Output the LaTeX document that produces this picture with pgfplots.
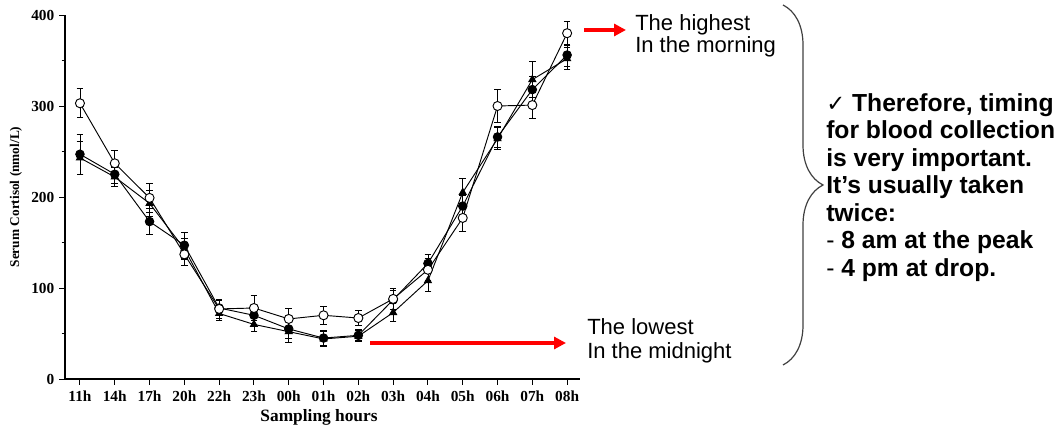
\documentclass[border=0pt]{standalone}
\usepackage{pgfplots}
\pgfplotsset{compat=1.18}
\usepackage{fontspec}
\setmainfont{Liberation Sans}
\newfontfamily\serif{Liberation Serif}
\newfontfamily\dejavu{DejaVu Sans}
\usetikzlibrary{decorations.pathreplacing,arrows.meta}
\begin{document}
\begin{tikzpicture}
\path (0pt,0pt) rectangle (794.25pt,321.75pt);
\begin{axis}[
  at={(48.75pt,37.5pt)}, anchor=south west,
  scale only axis, width=386.25pt, height=273pt,
  xmin=-0.43, xmax=14.37, ymin=0, ymax=400,
  axis x line*=bottom, axis y line*=left,
  axis line style={-, line width=0.8pt},
  tick align=outside, major tick length=4.5pt, minor tick length=2.5pt,
  tick style={line width=0.7pt, black},
  xtick={0,...,14},
  xticklabels={11h,14h,17h,20h,22h,23h,00h,01h,02h,03h,04h,05h,06h,07h,08h},
  ytick={0,100,200,300,400},
  minor ytick={50,150,250,350},
  /pgf/number format/assume math mode=true,
  tick label style={font=\serif\bfseries\fontsize{11.5}{13}\selectfont},
  xticklabel style={yshift=-1pt},
  clip=false,
  error bars/error bar style={line width=0.6pt, black},
  error bars/error mark options={rotate=90, mark size=2.5pt, line width=0.6pt, black},
]
% triangle series
\addplot[black, line width=0.7pt, mark=triangle*, mark size=3pt, mark options={fill=black, draw=black, solid},
  error bars/.cd, y dir=both, y explicit] coordinates {
  (0,243) +- (0,18)
  (1,222) +- (0,10)
  (2,193) +- (0,14)
  (3,143) +- (0,12)
  (4,72) +- (0,8)
  (5,60) +- (0,8)
  (6,52) +- (0,12)
  (7,44) +- (0,8)
  (8,47) +- (0,6)
  (9,73) +- (0,10)
  (10,108) +- (0,12)
  (11,205) +- (0,15)
  (12,264) +- (0,12)
  (13,329) +- (0,20)
  (14,352) +- (0,12)
};
% filled circle series
\addplot[black, line width=0.7pt, mark=*, mark size=3.2pt, mark options={fill=black, draw=black, solid},
  error bars/.cd, y dir=both, y explicit] coordinates {
  (0,247) +- (0,22)
  (1,225) +- (0,10)
  (2,173) +- (0,14)
  (3,147) +- (0,14)
  (4,78) +- (0,8)
  (5,70) +- (0,10)
  (6,55) +- (0,10)
  (7,45) +- (0,8)
  (8,48) +- (0,6)
  (9,87) +- (0,10)
  (10,127) +- (0,10)
  (11,190) +- (0,12)
  (12,266) +- (0,12)
  (13,318) +- (0,15)
  (14,356) +- (0,12)
};
% open circle series
\addplot[black, line width=0.7pt, mark=*, mark size=3.4pt, mark options={fill=white, draw=black, solid},
  error bars/.cd, y dir=both, y explicit] coordinates {
  (0,303) +- (0,16)
  (1,237) +- (0,14)
  (2,199) +- (0,16)
  (3,137) +- (0,12)
  (4,77) +- (0,10)
  (5,78) +- (0,14)
  (6,66) +- (0,12)
  (7,70) +- (0,10)
  (8,67) +- (0,8)
  (9,88) +- (0,12)
  (10,120) +- (0,12)
  (11,177) +- (0,15)
  (12,300) +- (0,18)
  (13,301) +- (0,15)
  (14,380) +- (0,13)
};
\end{axis}
\begin{scope}[x=0.75pt,y=0.75pt]
% axis titles
\node[rotate=90, font=\serif\bfseries\fontsize{10}{11}\selectfont] at (16,232) {Serum Cortisol (nmol/L)};
\node[font=\serif\bfseries\fontsize{13}{14}\selectfont] at (319,12) {Sampling hours};
% red arrows
\draw[red, line width=3.5pt, -{Triangle[length=9pt,width=9pt]}] (584,399) -- (626,399);
\draw[red, line width=3.5pt, -{Triangle[length=9pt,width=9pt]}] (370,86) -- (566,86);
% annotations
\begin{scope}[every node/.style={anchor=base west, inner sep=0pt, font=\fontsize{16.5}{19}\selectfont}]
\node at (635,398) {The highest};
\node at (635,376) {In\ the morning};
\node at (587,94) {The lowest};
\node at (587,70) {In\ the midnight};
\end{scope}
% brace
\draw[black!75, line width=0.9pt, decorate, decoration={brace, amplitude=30}] (783,424) -- (783,64);
% bold text block
\begin{scope}[every node/.style={anchor=base west, inner sep=0pt, font=\bfseries\fontsize{18.5}{21}\selectfont}]
\node at (826,317) {{\dejavu\mdseries\fontsize{17}{19}\selectfont ✓} Therefore, timing};
\node at (826,290) {for blood collection};
\node at (826,262) {is very important.};
\node at (826,235) {It’s usually taken};
\node at (826,207) {twice:};
\node at (826,180) {{\mdseries -} 8 am at the peak};
\node at (826,152) {{\mdseries -} 4 pm at drop.};
\end{scope}
\end{scope}
\end{tikzpicture}
\end{document}
